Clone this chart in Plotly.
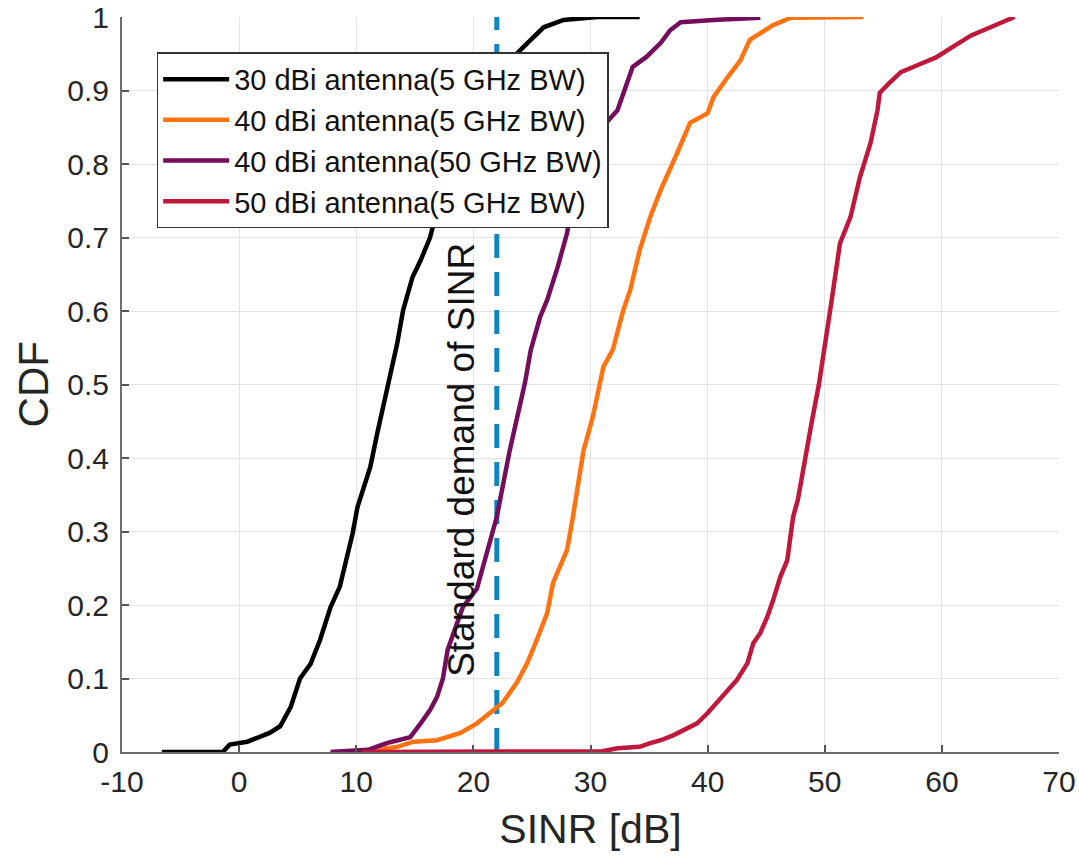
import plotly.graph_objects as go

# ---------------- data ----------------
x_30dBi_5G = [-6.6, -1.4, -0.8, 0.7, 2.6, 3.5, 4.4, 5.2, 6.1, 6.9, 7.8, 8.6, 9.2, 9.7, 10.1,
              10.6, 11.2, 11.8, 12.3, 12.9, 13.5, 14.0, 14.8, 15.5, 16.3, 16.9, 18.2, 19.4,
              21.0, 22.4, 23.7, 24.9, 26.0, 27.7, 30.6, 34.2]
y_30dBi_5G = [0.0, 0.0, 0.01, 0.014, 0.026, 0.035, 0.061, 0.10, 0.12, 0.152, 0.197, 0.225, 0.265,
              0.298, 0.333, 0.356, 0.388, 0.434, 0.469, 0.51, 0.556, 0.601, 0.646, 0.669, 0.70,
              0.737, 0.80, 0.85, 0.90, 0.93, 0.951, 0.969, 0.986, 0.996, 1.0, 1.0]

x_40dBi_5G = [8.2, 11.0, 13.5, 14.9, 16.9, 18.9, 20.3, 21.4, 22.5, 23.7, 24.6, 25.4, 26.3, 26.8,
              27.4, 28.0, 28.5, 29.4, 30.2, 31.1, 31.9, 32.8, 33.4, 34.2, 35.1, 36.0, 37.4, 38.5,
              40.0, 40.5, 41.7, 42.8, 43.6, 44.5, 45.6, 47.1, 53.3]
y_40dBi_5G = [0.0, 0.002, 0.007, 0.014, 0.016, 0.026, 0.039, 0.053, 0.067, 0.094, 0.121, 0.152,
              0.189, 0.23, 0.252, 0.275, 0.32, 0.41, 0.456, 0.524, 0.547, 0.601, 0.629, 0.683,
              0.728, 0.765, 0.815, 0.856, 0.869, 0.891, 0.918, 0.941, 0.969, 0.978, 0.989,
              0.999, 1.0]

x_40dBi_50G = [7.8, 11.0, 12.6, 14.6, 15.5, 16.3, 16.9, 17.4, 17.8, 18.3, 19.1, 20.3, 21.2,
               22.0, 23.1, 24.4, 24.9, 25.7, 26.3, 27.2, 28.0, 28.5, 29.5, 31.0, 32.3, 32.8,
               33.6, 34.8, 36.0, 36.8, 37.7, 40.5, 44.5]
y_40dBi_50G = [0.0, 0.003, 0.012, 0.02, 0.039, 0.057, 0.075, 0.10, 0.139, 0.162, 0.197, 0.222,
               0.275, 0.32, 0.41, 0.502, 0.547, 0.592, 0.615, 0.66, 0.706, 0.751, 0.80, 0.85,
               0.873, 0.897, 0.932, 0.946, 0.965, 0.982, 0.993, 0.996, 0.999]

x_50dBi_5G = [10.5, 31.0, 32.3, 34.2, 35.1, 36.0, 37.1, 38.3, 39.1, 40.0, 40.8, 41.7, 42.5,
              43.4, 43.9, 44.5, 45.1, 45.6, 46.2, 46.8, 47.1, 47.3, 47.7, 48.3, 48.9, 49.5,
              50.0, 50.5, 51.3, 52.2, 53.0, 53.9, 54.5, 54.7, 55.5, 56.5, 58.0, 59.5, 61.0,
              62.5, 64.0, 65.5, 66.2]
y_50dBi_5G = [0.0, 0.001, 0.005, 0.007, 0.012, 0.016, 0.023, 0.033, 0.039, 0.053, 0.067,
              0.084, 0.098, 0.121, 0.148, 0.162, 0.184, 0.207, 0.238, 0.261, 0.298, 0.32,
              0.343, 0.40, 0.45, 0.50, 0.55, 0.605, 0.692, 0.728, 0.782, 0.828, 0.873, 0.897,
              0.91, 0.925, 0.935, 0.945, 0.96, 0.975, 0.985, 0.995, 1.0]

sinr_demand = 22.0
demand_y = [0.0, 1.0]

series_names = ["30 dBi antenna(5 GHz BW)", "40 dBi antenna(5 GHz BW)",
                "40 dBi antenna(50 GHz BW)", "50 dBi antenna(5 GHz BW)"]

x_ticks = [-10, 0, 10, 20, 30, 40, 50, 60, 70]
x_tick_labels = ["-10", "0", "10", "20", "30", "40", "50", "60", "70"]
y_ticks = [0, 0.1, 0.2, 0.3, 0.4, 0.5, 0.6, 0.7, 0.8, 0.9, 1]
y_tick_labels = ["0", "0.1", "0.2", "0.3", "0.4", "0.5", "0.6", "0.7", "0.8", "0.9", "1"]

# ---------------- figure ----------------
FONT = "Liberation Sans, Arial, Helvetica, sans-serif"
colors = ["#000000", "#ff7210", "#730d5c", "#c0183c"]
xs = [x_30dBi_5G, x_40dBi_5G, x_40dBi_50G, x_50dBi_5G]
ys = [y_30dBi_5G, y_40dBi_5G, y_40dBi_50G, y_50dBi_5G]

fig = go.Figure()

# dashed demand line (drawn first so curves sit on top)
fig.add_trace(go.Scatter(
    x=[sinr_demand, sinr_demand], y=demand_y, mode="lines",
    line=dict(color="#0f86c0", width=5, dash="24px,14px"),
    showlegend=False, hoverinfo="skip"))

for name, xv, yv, c in zip(series_names, xs, ys, colors):
    fig.add_trace(go.Scatter(x=xv, y=yv, mode="lines", name=name,
                             line=dict(color=c, width=4.5)))

fig.add_annotation(
    x=19.0, y=0.397, xref="x", yref="y", text="Standard demand of SINR",
    textangle=-90, showarrow=False,
    font=dict(family=FONT, size=37, color="#111111"))

# y-axis title placed as an annotation for exact positioning
fig.add_annotation(
    x=-0.094, y=0.5, xref="paper", yref="paper", text="CDF",
    textangle=-90, showarrow=False, xanchor="center", yanchor="middle",
    font=dict(family=FONT, size=42, color="#262626"))

axis_common = dict(
    showgrid=True, gridcolor="#e3e3e3", gridwidth=1,
    showline=True, linecolor="#6e6e6e", linewidth=2,
    ticks="inside", ticklen=7, tickcolor="#555555", tickwidth=1.5,
    tickfont=dict(family=FONT, size=30, color="#262626"),
    zeroline=False, mirror=False, automargin=False,
    ticklabeloverflow="allow",
)

fig.update_xaxes(range=[-10, 70], tickvals=x_ticks, ticktext=x_tick_labels,
                 ticklabelstandoff=2,
                 title=dict(text="SINR [dB]", font=dict(family=FONT, size=41, color="#262626"),
                            standoff=17),
                 **axis_common)
fig.update_yaxes(range=[0, 1], tickvals=y_ticks, ticktext=y_tick_labels,
                 ticklabelstandoff=5, **axis_common)

fig.update_layout(
    width=1079, height=858, autosize=False,
    margin=dict(l=122, r=20, t=17, b=106),
    paper_bgcolor="white", plot_bgcolor="white",
    font=dict(family=FONT, color="#262626"),
    legend=dict(
        x=0.037, y=0.952, xanchor="left", yanchor="top",
        bgcolor="white", bordercolor="#333333", borderwidth=1.5,
        font=dict(family=FONT, size=29, color="#111111"),
        itemwidth=66, tracegroupgap=0,
    ),
)

fig.write_html("out.html", config={"displayModeBar": False},
               post_script="document.body.style.margin='0px';")
